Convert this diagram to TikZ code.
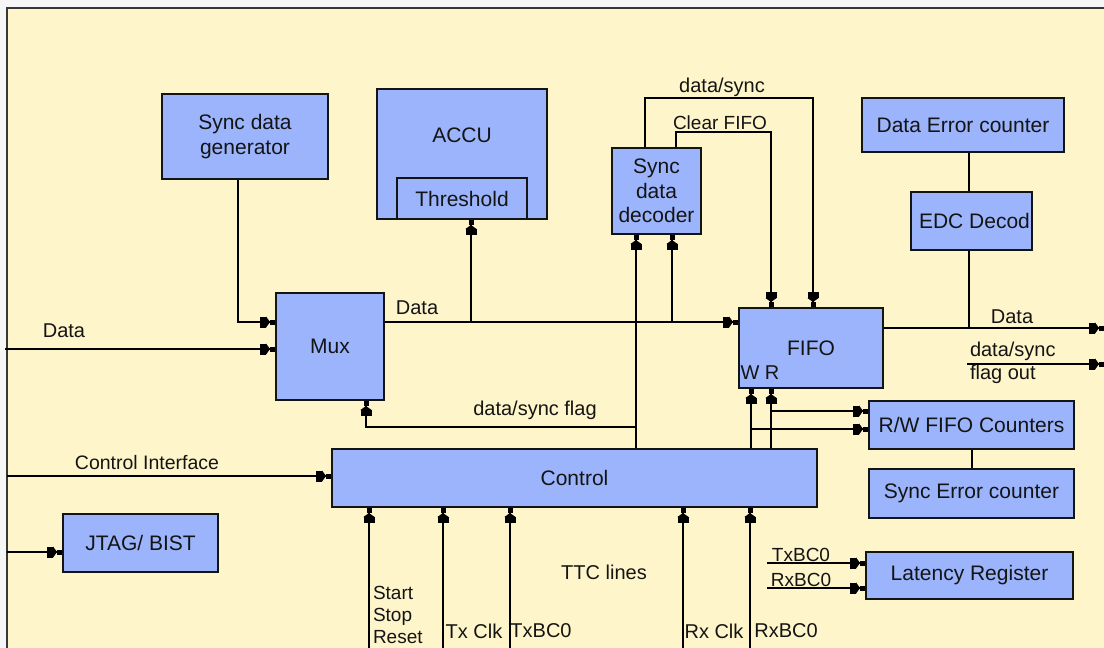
\documentclass[tikz,border=0pt]{standalone}
\usepackage{fontspec}
\setmainfont{Liberation Sans}
\usetikzlibrary{arrows.meta}
\definecolor{bg}{RGB}{255,245,202}
\definecolor{boxblue}{RGB}{155,180,252}
\definecolor{ink}{RGB}{20,20,20}
\begin{document}
\begin{tikzpicture}[x=1pt,y=-1pt,line width=2pt,
  box/.style={draw=ink,fill=boxblue,line width=2pt,inner sep=0pt,align=center,
              font=\fontsize{21}{24.5}\selectfont,text=ink},
  boxtext/.style={inner sep=0pt,font=\fontsize{21}{24.5}\selectfont,text=ink},
  lbl/.style={inner sep=0pt,font=\fontsize{20}{22.5}\selectfont,text=ink,align=left},
  arr/.style={-{Rectangle[length=6pt 0,width=11pt 0]Triangle[length=4pt 0,width=11pt 0]Rectangle[length=5pt 0,width=5pt 0]}}]
\useasboundingbox (0,0) rectangle (1104,648);
\fill[white!93!gray] (0,0) rectangle (1104,648);
\fill[bg] (7,8) rectangle (1104,648);
\draw[line width=2.2pt,ink!85] (7,648) -- (7,8) -- (1104,8);

% blocks
\node[box,minimum width=166pt,minimum height=85pt] (gen) at (245,136.5) {Sync data\\generator};
\node[box,minimum width=170pt,minimum height=130pt] (accu) at (462,154) {};
\node[boxtext] (accut) at (462,135) {ACCU};
\node[box,minimum width=130pt,minimum height=41pt] (thr) at (462,198.5) {Threshold};
\node[box,minimum width=89pt,minimum height=86pt] (dec) at (656.5,191) {Sync\\data\\decoder};
\node[box,minimum width=144pt,minimum height=80pt] (fifo) at (811,348) {FIFO};
\node[box,minimum width=202pt,minimum height=54pt] (derr) at (963,125) {Data Error counter};
\node[box,minimum width=121pt,minimum height=58pt] (edc) at (971.5,221) {\hspace*{6pt}EDC Decod};
\node[box,minimum width=108pt,minimum height=107pt] (mux) at (330,346.5) {Mux};
\node[box,minimum width=485pt,minimum height=58pt] (ctrl) at (574.5,478) {Control};
\node[box,minimum width=155pt,minimum height=58pt] (jtag) at (140.5,543) {JTAG/ BIST};
\node[box,minimum width=205pt,minimum height=48pt] (rw) at (971.5,425) {R/W FIFO Counters};
\node[box,minimum width=205pt,minimum height=49pt] (serr) at (971.5,493.5) {Sync Error counter};
\node[box,minimum width=207pt,minimum height=47pt] (lat) at (969.5,575.5) {Latency Register};

% junctions and free ends
\coordinate (din) at (5,349);
\coordinate (j1) at (471,322);
\coordinate (j2) at (672,322);
\coordinate (j3) at (636,427);
\coordinate (c1) at (813,98);
\coordinate (c2) at (771,132);
\coordinate (w1) at (751,429);
\coordinate (r1) at (771,411);
\coordinate (e1) at (969,328);
\coordinate (dout) at (1104,328);
\coordinate (fo1) at (967,364);
\coordinate (fo2) at (1104,364);
\coordinate (ci) at (7,476);
\coordinate (jt) at (7,552);
\coordinate (b1) at (369,648);
\coordinate (b2) at (443,648);
\coordinate (b3) at (510,648);
\coordinate (b4) at (683,648);
\coordinate (b5) at (750,648);
\coordinate (t1) at (767,563);
\coordinate (t2) at (767,588);

% connectors
\draw[arr] ([xshift=-7pt]gen.south) |- ([yshift=24.5pt]mux.west);
\draw[arr] (din) -- (din -| mux.west);
\draw[arr] ([yshift=24.5pt]mux.east) -- ([yshift=26pt]fifo.west);
\draw[arr] (j1) -- (j1 |- thr.south);
\draw[arr] (j2) -- (j2 |- dec.south);
\draw[arr] (ctrl.north -| j3) -- (j3 |- dec.south);
\draw[arr] (j3) -| ([xshift=36pt]mux.south);
\draw[arr] ([xshift=-11.5pt]dec.north) |- (c1) -- (c1 |- fifo.north);
\draw[arr] ([xshift=19.5pt]dec.north) |- (c2) -- (c2 |- fifo.north);
\draw[arr] (ctrl.north -| w1) -- (w1 |- fifo.south);
\draw[arr] (ctrl.north -| r1) -- (r1 |- fifo.south);
\draw[arr] (w1) -- (w1 -| rw.west);
\draw[arr] (r1) -- (r1 -| rw.west);
\draw (rw.south) -- (serr.north);
\draw (derr.south -| e1) -- (edc.north -| e1);
\draw (edc.south -| e1) -- (e1);
\draw[arr] ([yshift=20pt]fifo.east) -- (dout);
\draw[arr] (fo1) -- (fo2);
\draw[arr] (ci) -- (ci -| ctrl.west);
\draw[arr] (jt) -- (jt -| jtag.west);
\foreach \b in {b1,b2,b3,b4,b5} \draw[arr] (\b) -- (\b |- ctrl.south);
\draw[arr] (t1) -- (t1 -| lat.west);
\draw[arr] (t2) -- (t2 -| lat.west);

% labels
\node[lbl] (ldin) at (64,331) {Data};
\node[lbl] (lbus) at (417,308) {Data};
\node[lbl] (lds) at (722,87) {data/sync};
\node[lbl,font=\fontsize{19}{22}\selectfont] (lclr) at (720,123) {Clear FIFO};
\node[lbl] (lflag) at (535,410) {data/sync flag};
\node[lbl] (ldout) at (1012,317) {Data};
\node[lbl,anchor=west] (lfo) at (969,363) {data/sync\\flag out};
\node[lbl] (lwr) at (760,373) {W R};
\node[lbl,font=\fontsize{19.5}{22}\selectfont] (lci) at (147,463) {Control Interface};
\node[lbl,anchor=west,font=\fontsize{19}{22}\selectfont] (lssr) at (372,615) {Start\\Stop\\Reset};
\node[lbl] (ltxclk) at (474,631) {Tx Clk};
\node[lbl] (ltxbc) at (541,631) {TxBC0};
\node[lbl] (lttc) at (604,572) {TTC lines};
\node[lbl] (lrxclk) at (714,631) {Rx Clk};
\node[lbl] (lrxbc) at (786,631) {RxBC0};
\node[lbl,font=\fontsize{19}{22}\selectfont] (ltx2) at (801,555) {TxBC0};
\node[lbl,font=\fontsize{19}{22}\selectfont] (lrx2) at (801,580) {RxBC0};
\end{tikzpicture}
\end{document}
